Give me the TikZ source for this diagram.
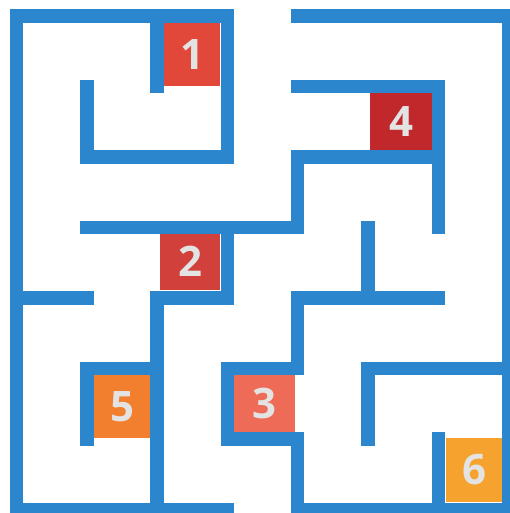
\documentclass[tikz,border=0pt]{standalone}
\usepackage{fontspec}
\setmainfont{Open Sans}
\definecolor{wallblue}{RGB}{43,134,205}
\definecolor{cA}{RGB}{226,72,58}
\definecolor{cB}{RGB}{209,64,58}
\definecolor{cC}{RGB}{238,107,87}
\definecolor{cD}{RGB}{193,40,44}
\definecolor{cE}{RGB}{242,127,46}
\definecolor{cF}{RGB}{246,162,46}
\definecolor{numtext}{RGB}{227,227,227}
\tikzset{
  wall/.style={draw=wallblue, line width=13.5pt, line cap=rect, line join=miter},
  numbox/.style={inner sep=0pt, text=numtext, font=\fontsize{42}{42}\selectfont\bfseries}
}
\begin{document}
\begin{tikzpicture}[x=1pt,y=-1pt]
\useasboundingbox (0,0) rectangle (510,513);
% numbered boxes
\node[numbox, fill=cA, minimum width=56pt, minimum height=63pt] (n1) at (192,54.5) {1};
\node[numbox, fill=cB, minimum width=60pt, minimum height=57pt] (n2) at (190,261.5) {2};
\node[numbox, fill=cC, minimum width=61pt, minimum height=57pt] (n3) at (264.5,403.5) {3};
\node[numbox, fill=cD, minimum width=62pt, minimum height=57pt] (n4) at (401,121.5) {4};
\node[numbox, fill=cE, minimum width=56pt, minimum height=63pt] (n5) at (122,406.5) {5};
\node[numbox, fill=cF, minimum width=56pt, minimum height=64pt] (n6) at (474,470) {6};
% walls on a 70px grid
\begin{scope}[shift={(16.5,16)}, x=70.3pt, y=-70.5pt]
  \draw[wall] (0,0) -- (3,0);
  \draw[wall] (4,0) -- (7,0);
  \draw[wall] (0,0) -- (0,7);
  \draw[wall] (7,0) -- (7,7);
  \draw[wall] (0,7) -- (3,7);
  \draw[wall] (4,7) -- (7,7);
  \draw[wall] (2,0) -- (2,1);
  \draw[wall] (3,0) -- (3,2);
  \draw[wall] (1,1) -- (1,2) -- (3,2);
  \draw[wall] (1,3) -- (4,3);
  \draw[wall] (4,1) -- (6,1) -- (6,3);
  \draw[wall] (4,3) -- (4,2) -- (6,2);
  \draw[wall] (5,3) -- (5,4);
  \draw[wall] (3,3) -- (3,4);
  \draw[wall] (0,4) -- (1,4);
  \draw[wall] (2,4) -- (3,4);
  \draw[wall] (2,4) -- (2,7);
  \draw[wall] (1,6) -- (1,5) -- (2,5);
  \draw[wall] (3,6) -- (3,5) -- (4,5) -- (4,4) -- (6,4);
  \draw[wall] (3,6) -- (4,6) -- (4,7);
  \draw[wall] (5,6) -- (5,5) -- (7,5);
  \draw[wall] (6,6) -- (6,7);
\end{scope}
\end{tikzpicture}
\end{document}
